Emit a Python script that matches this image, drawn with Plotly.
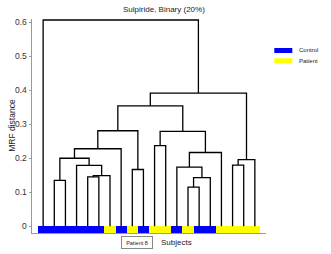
import plotly.graph_objects as go

# ---- data ----
leaf_positions = list(range(1, 21))
leaf_groups = ["Control"] * 6 + ["Patient", "Control", "Patient", "Control",
                                 "Patient", "Patient", "Control", "Patient",
                                 "Control", "Control", "Patient", "Patient",
                                 "Patient", "Patient"]
# merges: (left node, right node, height); leaves "L<pos>", merges "m<k>"
merge_left = ["L14", "L2", "m1", "L5", "m4", "L9", "L13", "L4", "L18", "m9",
              "m2", "m7", "m11", "L11", "m14", "m13", "m16", "m17", "L1"]
merge_right = ["L15", "L3", "L16", "L6", "L7", "L10", "m3", "m5", "L19", "L20",
               "m8", "L17", "L8", "L12", "m12", "m6", "m15", "m10", "m18"]
merge_height = [0.115, 0.135, 0.143, 0.145, 0.149, 0.167, 0.174, 0.179, 0.180,
                0.196, 0.200, 0.217, 0.228, 0.237, 0.279, 0.281, 0.354, 0.392,
                0.607]
title_text = "Sulpiride, Binary (20%)"
y_ticks = [0, 0.1, 0.2, 0.3, 0.4, 0.5, 0.6]
y_tick_labels = ["0", "0.1", "0.2", "0.3", "0.4", "0.5", "0.6"]
group_colors = {"Control": "#0000FF", "Patient": "#FFFF00"}

# ---- dendrogram geometry ----
pos = {f"L{p}": (p, 0.0) for p in leaf_positions}
lx, ly = [], []
for k, (a, b, h) in enumerate(zip(merge_left, merge_right, merge_height), start=1):
    xa, ha = pos[a]
    xb, hb = pos[b]
    lx += [xa, xa, xb, xb, None]
    ly += [ha, h, h, hb, None]
    pos[f"m{k}"] = ((xa + xb) / 2, h)

fig = go.Figure()

# colour strip
STRIP = 0.02
fig.add_trace(go.Bar(
    x=leaf_positions, y=[-STRIP] * len(leaf_positions), base=0, width=1,
    marker=dict(color=[group_colors[g] for g in leaf_groups], line=dict(width=0)),
    showlegend=False, hoverinfo="skip"))

fig.add_trace(go.Scatter(x=lx, y=ly, mode="lines",
                         line=dict(color="#000000", width=1.3),
                         showlegend=False, hoverinfo="skip"))

FONT = "Liberation Sans, Arial, sans-serif"
L, R, T, B = 32, 65, 19, 21
W, H = 331, 254
pw, ph = W - L - R, H - T - B


def px(xp):
    return (xp - L) / pw


def py(yp):
    return (H - B - yp) / ph


fig.update_layout(
    width=W, height=H, margin=dict(l=L, r=R, t=T, b=B, pad=0),
    paper_bgcolor="white", plot_bgcolor="white",
    bargap=0, showlegend=False,
    xaxis=dict(range=[0, 21], showline=True, linecolor="#999999", linewidth=1,
               showticklabels=False, ticks="", showgrid=False, zeroline=False,
               fixedrange=True),
    yaxis=dict(range=[-STRIP, 0.61], showline=True, linecolor="#999999", linewidth=1,
               tickvals=y_ticks, ticktext=y_tick_labels, ticks="outside", ticklen=2.5,
               tickcolor="#999999", tickfont=dict(family=FONT, size=8.5, color="#333333"),
               showgrid=False, zeroline=False, fixedrange=True, automargin=False),
)

anns = [
    dict(text=title_text, x=px(164), y=py(9), xref="paper", yref="paper",
         showarrow=False, font=dict(family=FONT, size=8, color="#222222"),
         xanchor="center", yanchor="middle"),
    dict(text="MRF distance", x=px(11.8), y=py(125), xref="paper", yref="paper",
         showarrow=False, textangle=-90, font=dict(family=FONT, size=8.5, color="#222222"),
         xanchor="center", yanchor="middle"),
    dict(text="Subjects", x=px(176.7), y=py(242.5), xref="paper", yref="paper",
         showarrow=False, font=dict(family=FONT, size=8, color="#222222"),
         xanchor="center", yanchor="middle"),
    dict(text="Patient 8", x=px(136.7), y=py(242.8), xref="paper", yref="paper",
         showarrow=False, font=dict(family=FONT, size=5.5, color="#222222"),
         xanchor="center", yanchor="middle", bordercolor="#888888", borderwidth=1,
         borderpad=2.5, bgcolor="white", width=25),
    dict(text="Control", x=px(297), y=py(50.3), xref="paper", yref="paper",
         showarrow=False, font=dict(family=FONT, size=6, color="#222222"),
         xanchor="left", yanchor="middle"),
    dict(text="Patient", x=px(297), y=py(60.8), xref="paper", yref="paper",
         showarrow=False, font=dict(family=FONT, size=6, color="#222222"),
         xanchor="left", yanchor="middle"),
]
fig.update_layout(annotations=anns)

fig.update_layout(shapes=[
    dict(type="rect", xref="paper", yref="paper", x0=px(274.3), x1=px(292.3),
         y0=py(53), y1=py(48), fillcolor=group_colors["Control"], line=dict(width=0)),
    dict(type="rect", xref="paper", yref="paper", x0=px(274.3), x1=px(292.3),
         y0=py(63.3), y1=py(58.3), fillcolor=group_colors["Patient"], line=dict(width=0)),
])

fig.write_html("out.html", config={"displayModeBar": False},
               post_script="document.body.style.margin='0';document.body.style.padding='0';")
